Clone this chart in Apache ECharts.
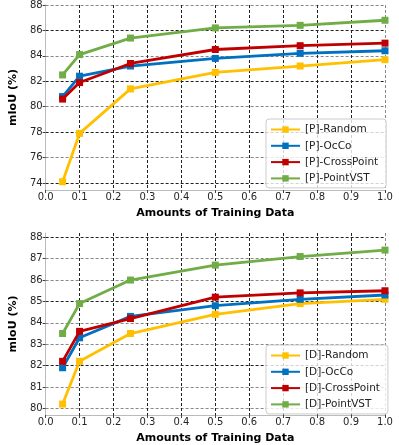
<!DOCTYPE html>
<html><head><meta charset="utf-8">
<script src="https://cdn.jsdelivr.net/npm/echarts@6/dist/echarts.min.js"></script>
<style>html,body{margin:0;padding:0;background:#fff}#c{width:399px;height:445px}</style>
</head><body><div id="c"></div>
<script>
const xVals = [0.05, 0.1, 0.25, 0.5, 0.75, 1.0];
const topNames = ['[P]-Random', '[P]-OcCo', '[P]-CrossPoint', '[P]-PointVST'];
const topRandom = [74.1, 77.9, 81.4, 82.7, 83.2, 83.7];
const topOcCo = [80.8, 82.4, 83.2, 83.8, 84.2, 84.4];
const topCross = [80.6, 81.9, 83.4, 84.5, 84.8, 85.0];
const topVST = [82.5, 84.1, 85.4, 86.2, 86.4, 86.8];
const topYTicks = [74, 76, 78, 80, 82, 84, 86, 88];
const botNames = ['[D]-Random', '[D]-OcCo', '[D]-CrossPoint', '[D]-PointVST'];
const botRandom = [80.2, 82.2, 83.5, 84.4, 84.9, 85.1];
const botOcCo = [81.9, 83.3, 84.3, 84.8, 85.1, 85.3];
const botCross = [82.2, 83.6, 84.2, 85.2, 85.4, 85.5];
const botVST = [83.5, 84.9, 86.0, 86.7, 87.1, 87.4];
const botYTicks = [80, 81, 82, 83, 84, 85, 86, 87, 88];
const colors = ['#FFC000', '#0070C0', '#C00000', '#70AD47'];

const font = 'DejaVu Sans';
const tickColor = '#262626';
function xAxis(gi) {
  return {
    type: 'value', gridIndex: gi, min: 0, max: 1, interval: 0.1,
    name: 'Amounts of Training Data', nameLocation: 'middle', nameGap: 18,
    nameTextStyle: {fontFamily: font, fontWeight: 'bold', fontSize: 11, color: '#000'},
    axisLine: {show: true, onZero: false, lineStyle: {color: '#bbb', width: 1}},
    axisTick: {show: true, inside: false, length: 3, lineStyle: {color: '#444'}},
    axisLabel: {fontFamily: font, fontSize: 10, color: tickColor, margin: 2,
      formatter: v => v.toFixed(1)},
    splitLine: {show: true, lineStyle: {type: [3, 2], color: ['#bbb', '#222', '#222', '#222', '#222', '#222', '#222', '#222', '#222', '#222', '#888'], width: 1}}
  };
}
function yAxis(gi, min, max, ticks, lineColors) {
  return {
    type: 'value', gridIndex: gi, min: min, max: max,
    name: 'mIoU (%)', nameLocation: 'middle', nameGap: 21, nameRotate: 90,
    nameTextStyle: {fontFamily: font, fontWeight: 'bold', fontSize: 11, color: '#000'},
    axisLine: {show: true, lineStyle: {color: '#bbb', width: 1}},
    axisTick: {show: true, length: 3, customValues: ticks, lineStyle: {color: '#444'}},
    axisLabel: {fontFamily: font, fontSize: 10, color: tickColor, margin: 3, customValues: ticks,
      showMinLabel: true, showMaxLabel: true},
    splitLine: {show: true, customValues: ticks, lineStyle: {type: [3, 2], color: lineColors, width: 1}}
  };
}
function series(names, datas, gi) {
  return names.map((n, i) => ({
    name: n, type: 'line', xAxisIndex: gi, yAxisIndex: gi,
    data: xVals.map((x, j) => [x, datas[i][j]]),
    symbol: 'rect', symbolSize: 7, showSymbol: true,
    lineStyle: {color: colors[i], width: 2.8},
    itemStyle: {color: colors[i]},
    emphasis: {disabled: true}, animation: false, z: 3 + i
  }));
}
function legend(names, top) {
  return {
    data: names, orient: 'vertical', left: 266, top: top, width: 115,
    itemWidth: 29, itemHeight: 8, itemGap: 5.3,
    padding: [5, 8, 4, 4],
    borderColor: '#ccc', borderWidth: 1, borderRadius: 3, backgroundColor: 'rgba(255,255,255,0.8)',
    textStyle: {fontFamily: font, fontSize: 10.5, color: '#222', padding: [0, 0, 0, 0]}
  };
}
const chart = echarts.init(document.getElementById('c'), null, {renderer: 'canvas'});
chart.setOption({
  animation: false,
  color: colors,
  grid: [
    {left: 37, right: 14, top: 5, height: 185},
    {left: 37, right: 14, top: 233, height: 182}
  ],
  xAxis: [xAxis(0), xAxis(1)],
  yAxis: [
    yAxis(0, 73.45, 88, topYTicks, ['#222', '#888']),
    yAxis(1, 79.69, 88.2, botYTicks, ['#888', '#888', '#222'])
  ],
  legend: [legend(topNames, 119), legend(botNames, 345)],
  series: [
    ...series(topNames, [topRandom, topOcCo, topCross, topVST], 0),
    ...series(botNames, [botRandom, botOcCo, botCross, botVST], 1)
  ]
});
</script></body></html>
